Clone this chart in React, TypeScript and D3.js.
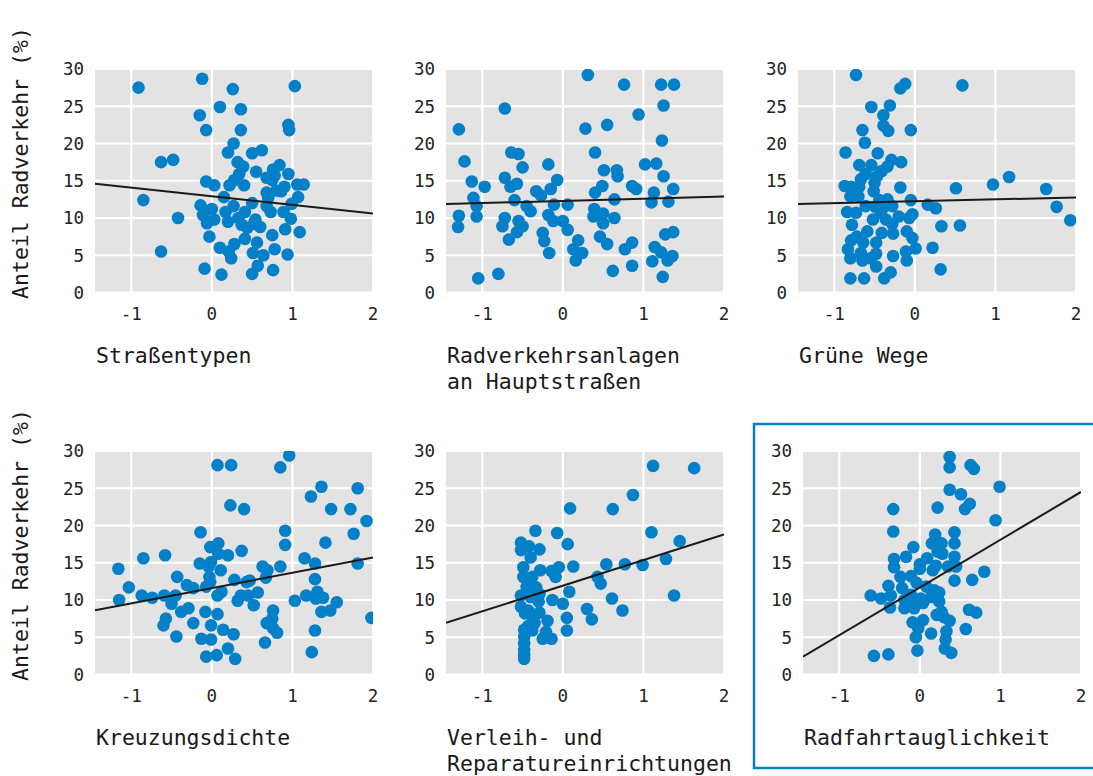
import React from "react";
import * as d3 from "d3";

type Pt = [number, number];

const strassentypen: Pt[] = [
  [-0.91, 27.5], [-0.12, 28.7], [0.26, 27.3], [1.03, 27.7], [0.10, 24.9], [0.36, 24.6], [-0.15, 23.8],
  [-0.07, 21.8], [0.36, 21.8], [0.95, 22.5], [0.96, 21.8], [0.27, 20.0], [0.20, 18.8], [0.50, 18.7],
  [0.62, 19.1], [-0.63, 17.5], [-0.48, 17.8], [0.32, 17.5], [0.39, 16.9], [0.34, 15.9], [0.55, 16.2],
  [0.84, 17.1], [0.76, 16.5], [0.95, 15.9], [0.68, 15.4], [0.78, 15.7], [-0.07, 14.9], [0.03, 14.4],
  [0.22, 14.4], [0.28, 15.1], [0.40, 14.4], [0.90, 14.2], [1.06, 14.5], [1.14, 14.5], [0.68, 13.4],
  [0.80, 13.7], [0.86, 13.6], [0.70, 12.7], [1.07, 12.8], [0.15, 12.8], [-0.85, 12.4], [0.50, 12.0],
  [-0.14, 11.7], [0.0, 11.2], [0.27, 11.6], [0.17, 10.8], [0.41, 10.8], [0.68, 11.6], [0.73, 10.8],
  [0.89, 10.8], [0.99, 11.9], [-0.11, 10.4], [-0.42, 10.0], [0.03, 9.8], [0.20, 9.5], [0.33, 10.0],
  [-0.06, 9.3], [0.98, 9.9], [0.52, 9.2], [0.60, 8.8], [0.44, 8.7], [0.91, 8.5], [1.09, 8.1],
  [0.41, 7.2], [-0.03, 7.5], [0.75, 7.7], [0.56, 6.7], [0.28, 6.5], [0.10, 6.0], [0.21, 5.5],
  [0.24, 4.6], [0.51, 5.3], [0.64, 5.0], [0.78, 5.8], [0.94, 5.1], [-0.63, 5.5], [-0.09, 3.2],
  [0.57, 3.6], [0.12, 2.4], [0.50, 2.5], [0.76, 3.0], [0.75, 15.1], [0.54, 9.8], [0.37, 9.1],
];

const radverkehrsanlagen: Pt[] = [
  [-1.29, 21.9], [-1.22, 17.6], [-0.72, 24.7], [0.31, 29.2], [0.76, 27.9], [1.22, 27.9], [1.38, 27.9],
  [1.25, 25.1], [0.94, 23.9], [0.28, 22.0], [0.55, 22.5], [1.23, 20.4], [0.40, 18.8], [-0.64, 18.8],
  [-0.55, 18.6], [-0.50, 16.8], [-0.18, 17.2], [1.02, 17.2], [1.16, 17.3], [0.51, 16.4], [0.67, 16.4],
  [0.68, 15.6], [1.25, 15.6], [-0.72, 15.4], [-1.13, 14.9], [-0.07, 15.1], [-0.97, 14.2], [-0.65, 14.2],
  [-0.57, 14.6], [0.49, 14.3], [0.86, 14.3], [0.91, 13.9], [1.37, 13.9], [-0.33, 13.6], [-0.27, 13.0],
  [-0.15, 13.9], [0.40, 13.4], [1.13, 13.4], [-1.11, 12.7], [-0.60, 12.4], [0.64, 12.5], [0.06, 11.8],
  [-0.11, 11.8], [-1.07, 11.6], [-0.45, 11.6], [-0.40, 10.9], [0.39, 11.2], [1.10, 12.1], [1.31, 12.2],
  [-1.29, 10.3], [-1.07, 10.2], [-0.72, 10.0], [-0.18, 10.4], [0.38, 10.2], [0.50, 10.6], [0.64, 10.0],
  [-1.30, 8.8], [-0.75, 8.9], [-0.55, 9.6], [-0.50, 8.9], [-0.57, 8.1], [-0.12, 9.6], [0.0, 9.6],
  [0.06, 8.4], [0.50, 9.3], [-0.25, 8.0], [-0.67, 7.1], [-0.23, 6.9], [0.19, 7.0], [0.46, 7.5],
  [0.55, 6.5], [0.86, 6.7], [0.77, 5.8], [1.27, 7.8], [1.37, 8.1], [0.13, 5.8], [0.24, 5.3],
  [-0.17, 5.3], [0.16, 4.3], [1.14, 6.1], [1.22, 5.4], [1.30, 4.3], [1.36, 4.9], [1.11, 4.2],
  [0.62, 2.9], [0.86, 3.6], [1.24, 2.1], [-1.05, 1.9], [-0.80, 2.5],
];

const grueneWege: Pt[] = [
  [-0.73, 29.2], [-0.18, 27.4], [-0.12, 28.0], [0.59, 27.8], [-0.54, 24.9], [-0.31, 25.1], [-0.39, 23.8],
  [-0.39, 22.4], [-0.33, 21.7], [-0.65, 21.8], [-0.05, 21.8], [-0.62, 20.1], [-0.86, 18.8], [-0.46, 18.7],
  [-0.29, 17.8], [-0.17, 17.5], [-0.69, 17.1], [-0.54, 17.1], [-0.34, 16.9], [-0.41, 16.3], [-0.61, 15.9],
  [-0.47, 15.6], [-0.67, 15.2], [-0.50, 14.7], [-0.87, 14.3], [-0.79, 14.2], [-0.69, 14.2], [-0.18, 14.1],
  [0.51, 14.0], [0.97, 14.5], [1.17, 15.5], [1.63, 13.9], [-0.51, 13.6], [-0.80, 12.9], [-0.70, 12.9],
  [-0.34, 12.5], [-0.44, 12.4], [-0.05, 12.4], [-0.61, 11.6], [-0.49, 11.5], [-0.37, 11.6], [-0.28, 11.6],
  [0.16, 11.8], [0.26, 11.3], [1.76, 11.5], [-0.84, 10.8], [-0.73, 10.7], [-0.42, 10.7], [-0.20, 10.2],
  [-0.03, 10.5], [-0.07, 10.0], [-0.52, 9.8], [-0.36, 9.8], [-0.78, 9.1], [-0.28, 9.2], [0.33, 8.9],
  [0.56, 9.0], [1.93, 9.7], [-0.59, 8.2], [-0.41, 8.0], [-0.27, 7.9], [-0.10, 8.2], [-0.72, 7.5],
  [-0.79, 7.0], [-0.03, 7.3], [-0.64, 6.7], [-0.48, 6.7], [-0.83, 5.8], [-0.67, 5.3], [-0.48, 5.2],
  [-0.11, 5.5], [0.01, 5.9], [0.22, 6.0], [-0.80, 4.6], [-0.65, 4.3], [-0.27, 4.9], [-0.10, 4.3],
  [-0.48, 3.5], [-0.30, 2.7], [0.32, 3.1], [-0.80, 1.9], [-0.63, 1.9], [-0.38, 1.9], [-0.55, 4.6],
];

const kreuzungsdichte: Pt[] = [
  [-1.16, 14.2], [-1.15, 10.0], [-1.03, 11.7], [-0.85, 15.6], [-0.87, 10.6], [-0.74, 10.3], [-0.58, 16.0],
  [-0.59, 10.6], [-0.60, 6.6], [-0.57, 7.5], [-0.43, 13.1], [-0.45, 10.6], [-0.50, 9.5], [-0.38, 8.4],
  [-0.44, 5.1], [-0.31, 12.0], [-0.23, 11.6], [-0.29, 8.9], [-0.23, 6.9], [-0.14, 19.1], [-0.15, 14.9],
  [-0.08, 8.4], [-0.13, 4.8], [-0.07, 2.4], [-0.07, 11.8], [-0.02, 17.1], [0.08, 17.6], [-0.01, 15.1],
  [0.08, 16.2], [0.20, 16.0], [-0.03, 13.1], [-0.04, 14.5], [-0.02, 12.4], [0.11, 14.0], [0.12, 11.1],
  [0.07, 10.6], [0.07, 8.1], [-0.01, 6.6], [-0.01, 4.7], [0.14, 6.0], [0.27, 5.4], [0.20, 3.5],
  [0.06, 2.6], [0.29, 2.1], [0.07, 28.1], [0.24, 28.1], [0.23, 22.7], [0.40, 22.2], [0.37, 16.6],
  [0.28, 12.7], [0.32, 9.9], [0.36, 10.6], [0.45, 10.6], [0.47, 12.6], [0.52, 9.3], [0.57, 11.0],
  [0.63, 14.5], [0.69, 14.0], [0.67, 13.0], [0.76, 8.6], [0.68, 6.9], [0.75, 7.5], [0.76, 6.2],
  [0.81, 5.6], [0.66, 4.3], [0.85, 27.8], [0.96, 29.4], [0.91, 19.3], [0.91, 17.4], [0.85, 14.5],
  [1.03, 9.9], [1.23, 23.9], [1.36, 25.2], [1.48, 22.2], [1.72, 22.2], [1.81, 25.0], [1.92, 20.6],
  [1.41, 17.7], [1.76, 18.9], [1.81, 14.9], [1.15, 15.6], [1.28, 14.9], [1.28, 12.8], [1.17, 10.6],
  [1.31, 11.1], [1.29, 10.2], [1.38, 10.3], [1.36, 8.4], [1.47, 8.6], [1.55, 9.7], [1.28, 5.9],
  [1.24, 3.0], [1.98, 7.6], [0.43, 12.4],
];

const verleih: Pt[] = [
  [1.12, 28.0], [1.63, 27.7], [0.87, 24.1], [0.09, 22.3], [0.62, 22.2], [-0.34, 19.3], [-0.07, 19.0],
  [1.10, 19.1], [1.45, 17.9], [0.06, 17.5], [-0.52, 17.7], [-0.52, 16.7], [-0.42, 17.2], [-0.29, 16.8],
  [-0.40, 15.7], [1.28, 15.5], [0.54, 14.8], [0.77, 14.8], [0.99, 14.7], [0.13, 14.5], [-0.05, 14.4],
  [-0.49, 14.4], [-0.28, 14.0], [-0.14, 13.9], [-0.09, 13.1], [0.43, 13.1], [-0.49, 13.1], [-0.38, 13.1],
  [0.47, 12.2], [-0.45, 11.8], [-0.33, 11.7], [0.08, 11.1], [-0.29, 10.8], [-0.52, 10.6], [-0.40, 10.4],
  [1.38, 10.6], [0.61, 10.2], [-0.13, 10.0], [-0.30, 9.8], [0.0, 9.5], [-0.52, 9.1], [-0.43, 8.6],
  [0.30, 8.8], [0.74, 8.6], [-0.29, 8.3], [-0.37, 7.5], [0.05, 7.6], [0.36, 7.4], [-0.19, 7.2],
  [-0.35, 6.9], [-0.43, 6.5], [-0.48, 6.0], [-0.38, 5.9], [0.05, 5.9], [-0.21, 5.7], [-0.25, 4.8],
  [-0.14, 4.8], [-0.48, 5.1], [-0.48, 4.2], [-0.48, 3.3], [-0.48, 2.7], [-0.48, 2.1], [-0.43, 11.8],
  [-0.47, 8.2],
];

const radfahrtauglichkeit: Pt[] = [
  [0.37, 29.2], [0.37, 27.8], [0.63, 28.1], [0.67, 27.6], [0.99, 25.2], [0.37, 24.8], [0.51, 24.2],
  [0.62, 22.9], [0.56, 22.2], [-0.33, 22.2], [0.22, 22.4], [0.94, 20.7], [-0.33, 19.2], [0.43, 19.1],
  [0.19, 18.8], [0.15, 17.6], [0.27, 17.6], [0.43, 17.6], [-0.08, 17.1], [0.22, 16.5], [0.28, 16.2],
  [-0.17, 15.8], [-0.32, 15.5], [0.09, 15.6], [0.43, 15.8], [0.0, 14.8], [0.0, 14.2], [-0.32, 14.4],
  [0.20, 14.6], [0.16, 14.0], [0.35, 14.5], [0.45, 14.5], [0.80, 13.8], [-0.24, 13.1], [-0.11, 13.2],
  [-0.04, 12.3], [0.43, 12.6], [0.65, 12.7], [-0.39, 11.9], [-0.22, 11.6], [0.08, 11.8], [0.18, 11.3],
  [-0.61, 10.6], [-0.48, 10.2], [-0.36, 10.6], [-0.11, 10.7], [0.01, 10.2], [0.24, 11.0], [0.14, 10.4],
  [-0.19, 10.0], [-0.07, 9.6], [0.04, 9.6], [0.24, 9.8], [-0.37, 9.0], [-0.19, 8.9], [-0.07, 8.9],
  [0.21, 8.0], [0.30, 7.7], [0.61, 8.7], [0.70, 8.3], [-0.09, 7.0], [0.04, 7.3], [0.37, 7.2],
  [-0.02, 6.2], [0.14, 5.5], [0.33, 5.8], [0.57, 6.1], [-0.05, 5.0], [0.32, 4.7], [0.31, 3.5],
  [0.39, 2.9], [-0.03, 3.2], [-0.57, 2.5], [-0.39, 2.7], [0.27, 8.4],
];

const panelData: Pt[][] = [strassentypen, radverkehrsanlagen, grueneWege, kreuzungsdichte, verleih, radfahrtauglichkeit];
const captions: string[][] = [
  ["Straßentypen"],
  ["Radverkehrsanlagen", "an Hauptstraßen"],
  ["Grüne Wege"],
  ["Kreuzungsdichte"],
  ["Verleih- und", "Reparatureinrichtungen"],
  ["Radfahrtauglichkeit"],
];
const intercepts: number[] = [12.92, 12.3, 12.24, 11.6, 11.92, 11.68];
const slopes: number[] = [-1.16, 0.299, 0.258, 2.05, 3.44, 6.41];
const xTicks: number[] = [-1, 0, 1, 2];
const yTicks: number[] = [0, 5, 10, 15, 20, 25, 30];
const yTitle = "Anteil Radverkehr (%)";

const FONT = "'DejaVu Sans Mono', 'Liberation Mono', monospace";
const BLUE = "#0480c9";
const PANEL_W = 278;
const PANEL_H = 223.5;
const colLefts = [95, 446, 798];
const rowTops = [69, 451];

function Panel({ idx }: { idx: number }) {
  const row = Math.floor(idx / 3);
  const col = idx % 3;
  const shift = idx === 5 ? 5 : 0;
  const left = colLefts[col] + shift;
  const top = rowTops[row];
  const x = d3.scaleLinear().domain([-1.45, 2]).range([left, left + PANEL_W]);
  const y = d3.scaleLinear().domain([0, 30]).range([top + PANEL_H, top]);
  const a = intercepts[idx];
  const b = slopes[idx];
  const xd = x.domain();
  const line = d3.line<number>().x((v) => x(v)).y((v) => y(a + b * v));
  const clipId = `clip${idx}`;
  return (
    <g>
      <defs>
        <clipPath id={clipId}>
          <rect x={left} y={top} width={PANEL_W} height={PANEL_H} />
        </clipPath>
      </defs>
      <rect x={left} y={top} width={PANEL_W} height={PANEL_H} fill="#e3e3e3" />
      {yTicks.map((t) => (
        <line key={"gy" + t} x1={left} x2={left + PANEL_W} y1={y(t)} y2={y(t)} stroke="#fff" strokeWidth={2.2} />
      ))}
      {xTicks.map((t) => (
        <line key={"gx" + t} x1={x(t)} x2={x(t)} y1={top} y2={top + PANEL_H} stroke="#fff" strokeWidth={2.2} />
      ))}
      <g clipPath={`url(#${clipId})`}>
        {panelData[idx].map((p, i) => (
          <circle key={i} cx={x(p[0])} cy={y(p[1])} r={6.3} fill={BLUE} />
        ))}
        <path d={line(xd) || ""} stroke="#1a1a1a" strokeWidth={2} fill="none" />
      </g>
      {yTicks.map((t) => (
        <text key={"ty" + t} x={left - 11} y={y(t)} dy="0.36em" textAnchor="end" fontSize={17.5} fill="#222" fontFamily={FONT}>
          {t}
        </text>
      ))}
      {xTicks.map((t) => (
        <text key={"tx" + t} x={x(t)} y={top + PANEL_H + 21} dy="0.36em" textAnchor="middle" fontSize={17.5} fill="#222" fontFamily={FONT}>
          {t < 0 ? "-" + Math.abs(t) : t}
        </text>
      ))}
      {captions[idx].map((c, i) => (
        <text key={"c" + i} x={left + 1} y={top + PANEL_H + 63 + i * 26} dy="0.36em" fontSize={21.5} fill="#1a1a1a" fontFamily={FONT}>
          {c}
        </text>
      ))}
    </g>
  );
}

export default function App() {
  return (
    <svg width={1093} height={776} style={{ position: "absolute", left: 0, top: 0, background: "#fff" }}>
      <rect x={754} y={424} width={345} height={344} fill="none" stroke={BLUE} strokeWidth={2.5} />
      {[0, 1].map((r) => (
        <text
          key={"yt" + r}
          transform={`translate(20, ${rowTops[r] + 94}) rotate(-90)`}
          dy="0.36em"
          textAnchor="middle"
          fontSize={21.5}
          fill="#1a1a1a"
          fontFamily={FONT}
        >
          {yTitle}
        </text>
      ))}
      {panelData.map((_, i) => (
        <Panel key={i} idx={i} />
      ))}
    </svg>
  );
}
